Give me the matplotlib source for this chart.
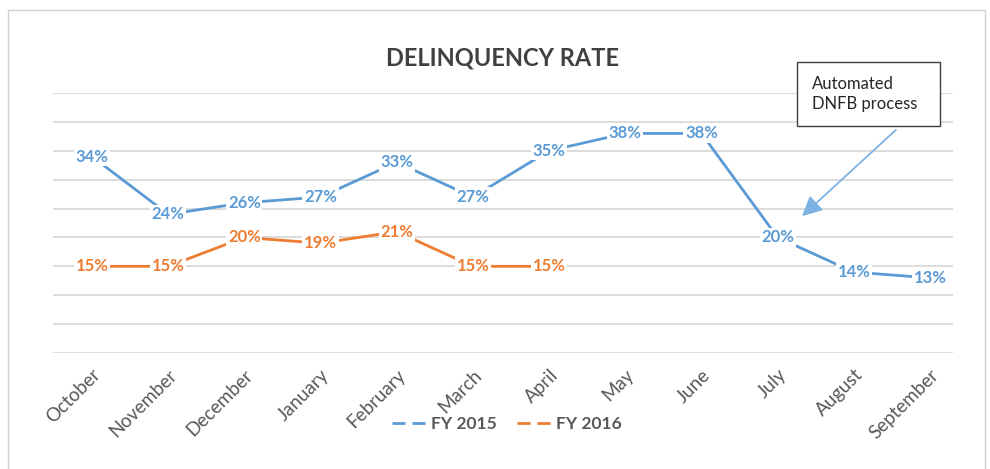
import matplotlib
matplotlib.use("Agg")
import matplotlib.pyplot as plt
from matplotlib.patches import Rectangle, FancyArrowPatch
from matplotlib.lines import Line2D

months = ["October", "November", "December", "January", "February", "March",
          "April", "May", "June", "July", "August", "September"]
fy2015 = [34, 24, 26, 27, 33, 27, 35, 38, 38, 20, 14, 13]
fy2016 = [15, 15, 20, 19, 21, 15, 15]
title = "DELINQUENCY RATE"
note = "Automated\nDNFB process"

BLUE = "#5B9BD5"
ORANGE = "#ED7D31"
GREY = "#595959"
FONT = ["Lato", "DejaVu Sans"]

plt.rcParams["font.family"] = FONT

W, H = 990, 469
fig = plt.figure(figsize=(W / 100, H / 100), dpi=100)
fig.patch.set_facecolor("white")

def fx(px):
    return px / W

def fy(py):
    return 1 - py / H

# outer border (bottom edge falls outside the picture)
fig.patches.append(Rectangle((fx(8), fy(475)), fx(985) - fx(8), fy(10) - fy(475),
                             transform=fig.transFigure, fill=False,
                             edgecolor="#d0d0d0", lw=1.0, zorder=0))

ax = fig.add_axes([fx(53), fy(353), fx(953) - fx(53), fy(93) - fy(353)])
ax.set_facecolor("none")
x = list(range(len(months)))
ax.set_xlim(-0.512, 11.302)
ax.set_ylim(0, 45)
ax.set_yticks(range(0, 46, 5))
ax.yaxis.grid(True, color="#d9d9d9", lw=1.3)
ax.set_axisbelow(True)
ax.tick_params(axis="y", left=False, labelleft=False)
ax.tick_params(axis="x", bottom=False, pad=6)
for s in ax.spines.values():
    s.set_visible(False)
ax.set_xticks(x)
ax.set_xticklabels(months, rotation=45, ha="right", va="top",
                   rotation_mode="anchor", fontsize=13.5, color=GREY)

ax.plot(x, fy2015, color=BLUE, lw=2.0, solid_capstyle="butt", zorder=2)
ax.plot(x[:len(fy2016)], fy2016, color=ORANGE, lw=2.0, solid_capstyle="butt", zorder=2)

for xi, v in zip(x, fy2015):
    ax.text(xi, v, f"{v}%", ha="center", va="center", fontsize=12,
            fontweight="bold", color=BLUE, zorder=3,
            bbox=dict(boxstyle="square,pad=0.1", fc="white", ec="none"))
for xi, v in zip(x, fy2016):
    ax.text(xi, v, f"{v}%", ha="center", va="center", fontsize=12,
            fontweight="bold", color=ORANGE, zorder=3,
            bbox=dict(boxstyle="square,pad=0.1", fc="white", ec="none"))

fig.text(fx(502), fy(58), title, ha="center", va="center", fontsize=17,
         fontweight="bold", color="#404040")

# annotation box
fig.patches.append(Rectangle((fx(797), fy(126)), fx(940) - fx(797), fy(62) - fy(126),
                             transform=fig.transFigure, fill=True, facecolor="white",
                             edgecolor="#404040", lw=1.0, zorder=5))
fig.text(fx(812), fy(94), note, ha="left", va="center", fontsize=12,
         color="#262626", linespacing=1.35, zorder=6)
arrow = FancyArrowPatch((fx(898), fy(128)), (fx(800), fy(218)),
                        transform=fig.transFigure, arrowstyle="-|>,head_length=8,head_width=4",
                        mutation_scale=1.5, color="#7DB3E3", lw=1.3, zorder=5)
fig.patches.append(arrow)

handles = [Line2D([], [], color=BLUE, lw=2.0, dashes=(4.7, 2.5)),
           Line2D([], [], color=ORANGE, lw=2.0, dashes=(4.7, 2.5))]
leg = fig.legend(handles, ["FY 2015", "FY 2016"], loc="center",
                 bbox_to_anchor=(fx(507), fy(424)), ncol=2, frameon=False,
                 handlelength=2.0, handletextpad=0.25, columnspacing=1.2,
                 prop=dict(family=FONT, size=12.5, weight="bold"))
for t in leg.get_texts():
    t.set_color(GREY)

fig.savefig("out.png", dpi=100, facecolor="white")
